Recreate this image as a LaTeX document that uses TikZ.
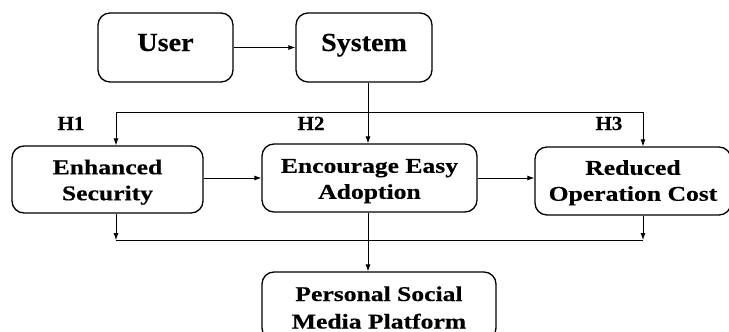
\documentclass[tikz,border=0pt]{standalone}
\usepackage{fontspec}
\setmainfont{Liberation Serif}[FakeStretch=1.22,FakeBold=0.4]
\newfontfamily\topfont{Liberation Serif}[FakeStretch=1.08,FakeBold=0.4]
\newfontfamily\hfont{Liberation Serif}[FakeStretch=1.05,FakeBold=0.3]
\usetikzlibrary{arrows.meta}
\newcommand\twoline[4]{\rule{0pt}{#3}#1\\#2\rule[-#4]{0pt}{#4}}
\newcommand\oneline[1]{\rule[-12pt]{0pt}{31pt}#1}
\begin{document}
\begin{tikzpicture}[x=1pt,y=-1pt,
  box/.style={draw,line width=1.3pt,rounded corners=12pt,align=center,inner sep=0pt,
    font=\fontsize{21}{26}\selectfont\bfseries},
  topbox/.style={box,font=\topfont\fontsize{26}{30}\selectfont\bfseries},
  conn/.style={line width=0.8pt,-{Latex[length=7pt,width=5pt]}},
  line/.style={line width=0.8pt},
  hlab/.style={font=\hfont\fontsize{20}{22}\selectfont\bfseries,inner sep=0pt,anchor=base}]
\useasboundingbox (0,0) rectangle (729,332);
\node[topbox,minimum width=135pt,minimum height=69pt] (user) at (165.5,47.5) {\oneline{User}};
\node[topbox,minimum width=136pt,minimum height=69pt] (sys) at (364,47.5) {\oneline{System}};
\node[box,minimum width=191pt,minimum height=67pt] (enh) at (107.5,179.5) {\twoline{Enhanced}{Security}{20pt}{3pt}};
\node[box,minimum width=215pt,minimum height=68pt] (enc) at (369.5,178) {\twoline{Encourage Easy}{Adoption}{20pt}{3pt}};
\node[box,minimum width=196pt,minimum height=68pt] (red) at (633,181) {\twoline{Reduced}{Operation Cost}{18pt}{4pt}};
\node[box,minimum width=234pt,minimum height=68pt,
  font=\fontsize{21}{27.5}\selectfont\bfseries] (pers) at (379,306) {\twoline{Personal Social}{Media Platform}{19.5pt}{2pt}};
\node[hlab] (h1) at (71,130) {H1};
\node[hlab] (h2) at (311,130) {H2};
\node[hlab] (h3) at (609,130) {H3};
\coordinate (top) at (368,112);
\coordinate (tl) at (116,112);
\coordinate (tr) at (643,112);
\coordinate (bl) at (116,240);
\coordinate (br) at (643,240);
\draw[conn] (user) -- (sys);
\draw[line] (sys.south -| top) -- (top);
\draw[line] (tl) -- (tr);
\draw[conn] (tl) -- (tl |- enh.north);
\draw[conn] (top) -- (top |- enc.north);
\draw[conn] (tr) -- (tr |- red.north);
\draw[conn] (enh.east |- 0,178) -- (enc.west |- 0,178);
\draw[conn] (enc.east |- 0,178) -- (red.west |- 0,178);
\draw[conn] (enh.south -| bl) -- (bl);
\draw[conn] (red.south -| br) -- (br);
\draw[line] (bl) -- (br);
\draw[conn] (enc.south -| top) -- (pers.north -| top);
\end{tikzpicture}
\end{document}
